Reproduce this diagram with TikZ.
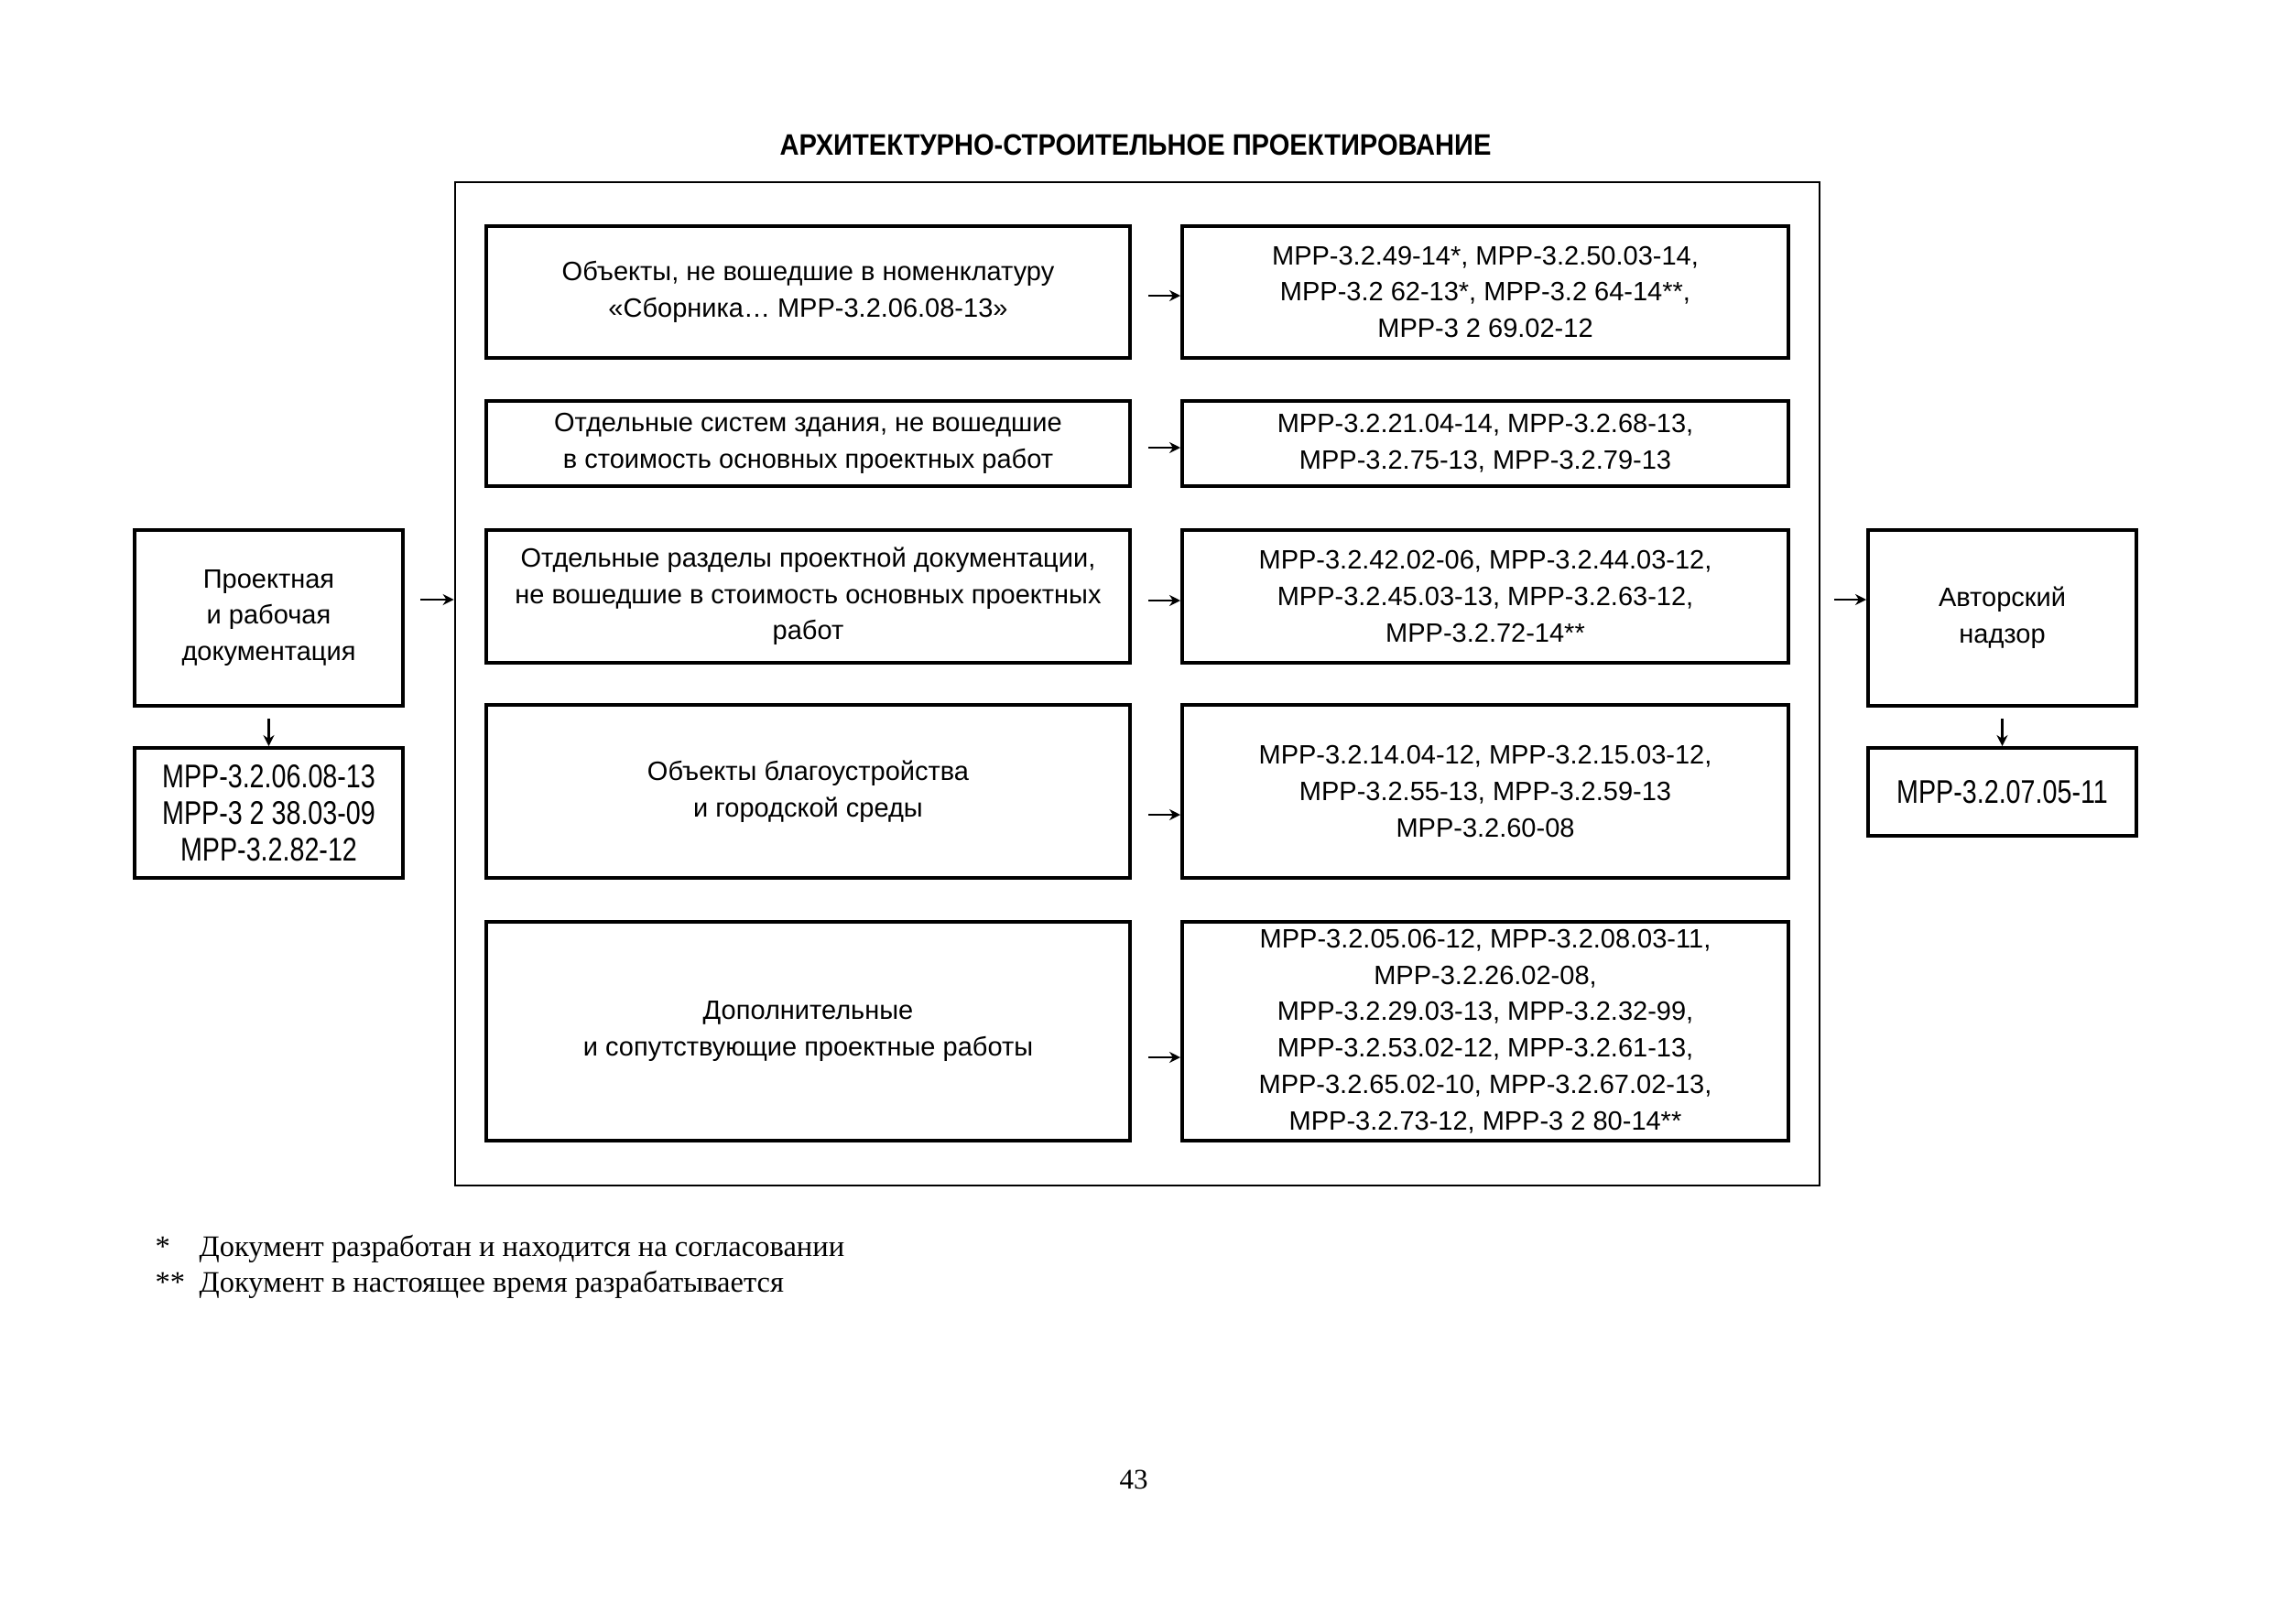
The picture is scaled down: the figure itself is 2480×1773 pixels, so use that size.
\documentclass[tikz,border=0pt]{standalone}
\usepackage{fontspec}
\setmainfont{Liberation Sans}
\newfontfamily\narrowf{Liberation Sans}[FakeStretch=0.8]
\newfontfamily\titlef{Liberation Sans Bold}[FakeStretch=0.9]
\newfontfamily\footfont{Liberation Serif}
\usetikzlibrary{arrows.meta}
\begin{document}
\begin{tikzpicture}[x=0.1mm,y=-0.1mm,
  box/.style={draw, line width=0.4mm, align=center, inner sep=0pt,
    font=\fontsize{8.25}{11.3}\selectfont},
  codebox/.style={box, font=\narrowf\fontsize{10.2}{11.4}\selectfont},
  outerbox/.style={draw, line width=0.28mm, inner sep=0pt},
  arr/.style={-{Stealth[length=1.2mm,width=1.2mm]}, line width=0.25mm},
  foot/.style={anchor=base west, inner sep=0pt, font=\footfont\fontsize{9.25}{11}\selectfont}]
\useasboundingbox (0,0) rectangle (2480,1773);
\fill[white] (0,0) rectangle (2480,1773);

\node[font=\titlef\fontsize{9.2}{10}\selectfont, inner sep=0pt] (title) at (1240,158)
  {АРХИТЕКТУРНО-СТРОИТЕЛЬНОЕ ПРОЕКТИРОВАНИЕ};

\node[outerbox, minimum width=149mm, minimum height=109.6mm] (outer) at (1242,747) {};

% left and right columns
\node[box, minimum width=29.3mm, minimum height=19.2mm] (A) at (293.5,675)
  {Проектная\\и рабочая\\документация};
\node[codebox, minimum width=29.3mm, minimum height=14.2mm] (LA) at (293.5,888)
  {МРР-3.2.06.08-13\\МРР-3 2 38.03-09\\МРР-3.2.82-12};
\node[box, minimum width=29.3mm, minimum height=19.2mm] (B) at (2186.5,675)
  {Авторский\\надзор};
\node[codebox, minimum width=29.3mm, minimum height=9.6mm] (RB) at (2186.5,865)
  {МРР-3.2.07.05-11};

% inner rows
\node[box, minimum width=70.3mm, minimum height=14.4mm] (L1) at (882.5,319)
  {Объекты, не вошедшие в номенклатуру\\«Сборника… МРР-3.2.06.08-13»};
\node[box, minimum width=66.2mm, minimum height=14.4mm] (R1) at (1622,319)
  {МРР-3.2.49-14*, МРР-3.2.50.03-14,\\МРР-3.2 62-13*, МРР-3.2 64-14**,\\МРР-3 2 69.02-12};

\node[box, minimum width=70.3mm, minimum height=9.3mm] (L2) at (882.5,484.5)
  {Отдельные систем здания, не вошедшие\\в стоимость основных проектных работ};
\node[box, minimum width=66.2mm, minimum height=9.3mm] (R2) at (1622,484.5)
  {МРР-3.2.21.04-14, МРР-3.2.68-13,\\МРР-3.2.75-13, МРР-3.2.79-13};

\node[box, minimum width=70.3mm, minimum height=14.5mm] (L3) at (882.5,651.5)
  {Отдельные разделы проектной документации,\\не вошедшие в стоимость основных проектных\\работ};
\node[box, minimum width=66.2mm, minimum height=14.5mm] (R3) at (1622,651.5)
  {МРР-3.2.42.02-06, МРР-3.2.44.03-12,\\МРР-3.2.45.03-13, МРР-3.2.63-12,\\МРР-3.2.72-14**};

\node[box, minimum width=70.3mm, minimum height=18.9mm] (L4) at (882.5,864.5)
  {Объекты благоустройства\\и городской среды};
\node[box, minimum width=66.2mm, minimum height=18.9mm] (R4) at (1622,864.5)
  {МРР-3.2.14.04-12, МРР-3.2.15.03-12,\\МРР-3.2.55-13, МРР-3.2.59-13\\МРР-3.2.60-08};

\node[box, minimum width=70.3mm, minimum height=23.9mm] (L5) at (882.5,1126.5)
  {Дополнительные\\и сопутствующие проектные работы};
\node[box, minimum width=66.2mm, minimum height=23.9mm] (R5) at (1622,1126.5)
  {МРР-3.2.05.06-12, МРР-3.2.08.03-11,\\МРР-3.2.26.02-08,\\МРР-3.2.29.03-13, МРР-3.2.32-99,\\МРР-3.2.53.02-12, МРР-3.2.61-13,\\МРР-3.2.65.02-10, МРР-3.2.67.02-13,\\МРР-3.2.73-12, МРР-3 2 80-14**};

% arrow heights
\coordinate (y0) at (0,655);
\coordinate (y1) at (0,323);
\coordinate (y2) at (0,489);
\coordinate (y3) at (0,656);
\coordinate (y4) at (0,890);
\coordinate (y5) at (0,1155);

\draw[arr] ([xshift=1.7mm]A.east |- y0) -- (outer.west |- y0);
\draw[arr] ([xshift=1.5mm]outer.east |- y0) -- (B.west |- y0);
\draw[arr] ([yshift=-1.2mm]A.south) -- (LA.north);
\draw[arr] ([yshift=-1.2mm]B.south) -- (RB.north);

\draw[arr] ([xshift=1.8mm]L1.east |- y1) -- (R1.west |- y1);
\draw[arr] ([xshift=1.8mm]L2.east |- y2) -- (R2.west |- y2);
\draw[arr] ([xshift=1.8mm]L3.east |- y3) -- (R3.west |- y3);
\draw[arr] ([xshift=1.8mm]L4.east |- y4) -- (R4.west |- y4);
\draw[arr] ([xshift=1.8mm]L5.east |- y5) -- (R5.west |- y5);

% footnotes
\node[foot] (s1) at (169,1372) {*};
\node[foot] (f1) at (217,1372) {Документ разработан и находится на согласовании};
\node[foot] (s2) at (169,1411) {**};
\node[foot] (f2) at (217,1411) {Документ в настоящее время разрабатывается};

\node[font=\footfont\fontsize{8.8}{10}\selectfont, inner sep=0pt] (page) at (1238,1616) {43};
\end{tikzpicture}
\end{document}
